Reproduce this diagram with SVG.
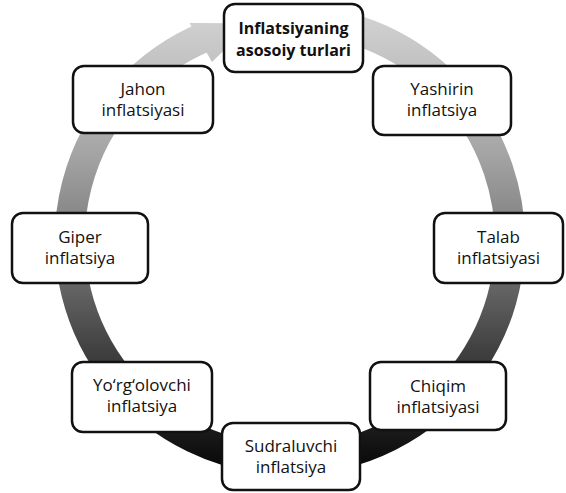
<svg xmlns="http://www.w3.org/2000/svg" width="566" height="493" viewBox="0 0 566 493">
<defs>
<linearGradient id="ringGrad" gradientUnits="userSpaceOnUse" x1="0" y1="15" x2="0" y2="465">
<stop offset="0" stop-color="#d2d2d2"/>
<stop offset="0.3" stop-color="#a6a6a6"/>
<stop offset="0.55" stop-color="#727272"/>
<stop offset="0.78" stop-color="#383838"/>
<stop offset="1" stop-color="#0a0a0a"/>
</linearGradient>
<style>
.box{fill:#fff;stroke:#111;stroke-width:2.5}
.t{font-family:"Open Sans","Noto Sans","Liberation Sans",sans-serif;font-size:17px;fill:#111;text-anchor:middle}
.b{font-weight:bold;font-size:16px}
</style>
</defs>
<rect width="566" height="493" fill="#fff"/>
<g id="connectors">
<path d="M 358 30.8 A 220 220 0 1 1 205.7 36.7" fill="none" stroke="url(#ringGrad)" stroke-width="30"/>
<polygon points="189.5,23 212,62 251.8,23.3" fill="url(#ringGrad)"/>
</g>
<g id="n-top">
<rect class="box" x="224" y="4" width="139" height="68" rx="11"/>
<text class="t b" x="293.5" y="34">Inflatsiyaning</text>
<text class="t b" x="293.5" y="56">asosoiy turlari</text>
</g>
<g id="n-yashirin">
<rect class="box" x="373" y="66" width="138" height="69" rx="11"/>
<text class="t" x="442" y="95">Yashirin</text>
<text class="t" x="442" y="116">inflatsiya</text>
</g>
<g id="n-talab">
<rect class="box" x="434" y="213" width="129" height="70" rx="11"/>
<text class="t" x="498.5" y="243">Talab</text>
<text class="t" x="498.5" y="264">inflatsiyasi</text>
</g>
<g id="n-chiqim">
<rect class="box" x="370" y="362" width="136" height="68" rx="11"/>
<text class="t" x="438" y="392">Chiqim</text>
<text class="t" x="438" y="413">inflatsiyasi</text>
</g>
<g id="n-sudraluvchi">
<rect class="box" x="222" y="423" width="138" height="67" rx="11"/>
<text class="t" x="291" y="452">Sudraluvchi</text>
<text class="t" x="291" y="473">inflatsiya</text>
</g>
<g id="n-yorgolovchi">
<rect class="box" x="72" y="362" width="140" height="70" rx="11"/>
<text class="t" x="142" y="391">Yo‘rg‘olovchi</text>
<text class="t" x="142" y="412">inflatsiya</text>
</g>
<g id="n-giper">
<rect class="box" x="12" y="213" width="136" height="70" rx="11"/>
<text class="t" x="80" y="243">Giper</text>
<text class="t" x="80" y="264">inflatsiya</text>
</g>
<g id="n-jahon">
<rect class="box" x="73" y="66" width="140" height="67" rx="11"/>
<text class="t" x="143" y="95">Jahon</text>
<text class="t" x="143" y="116">inflatsiyasi</text>
</g>
</svg>
